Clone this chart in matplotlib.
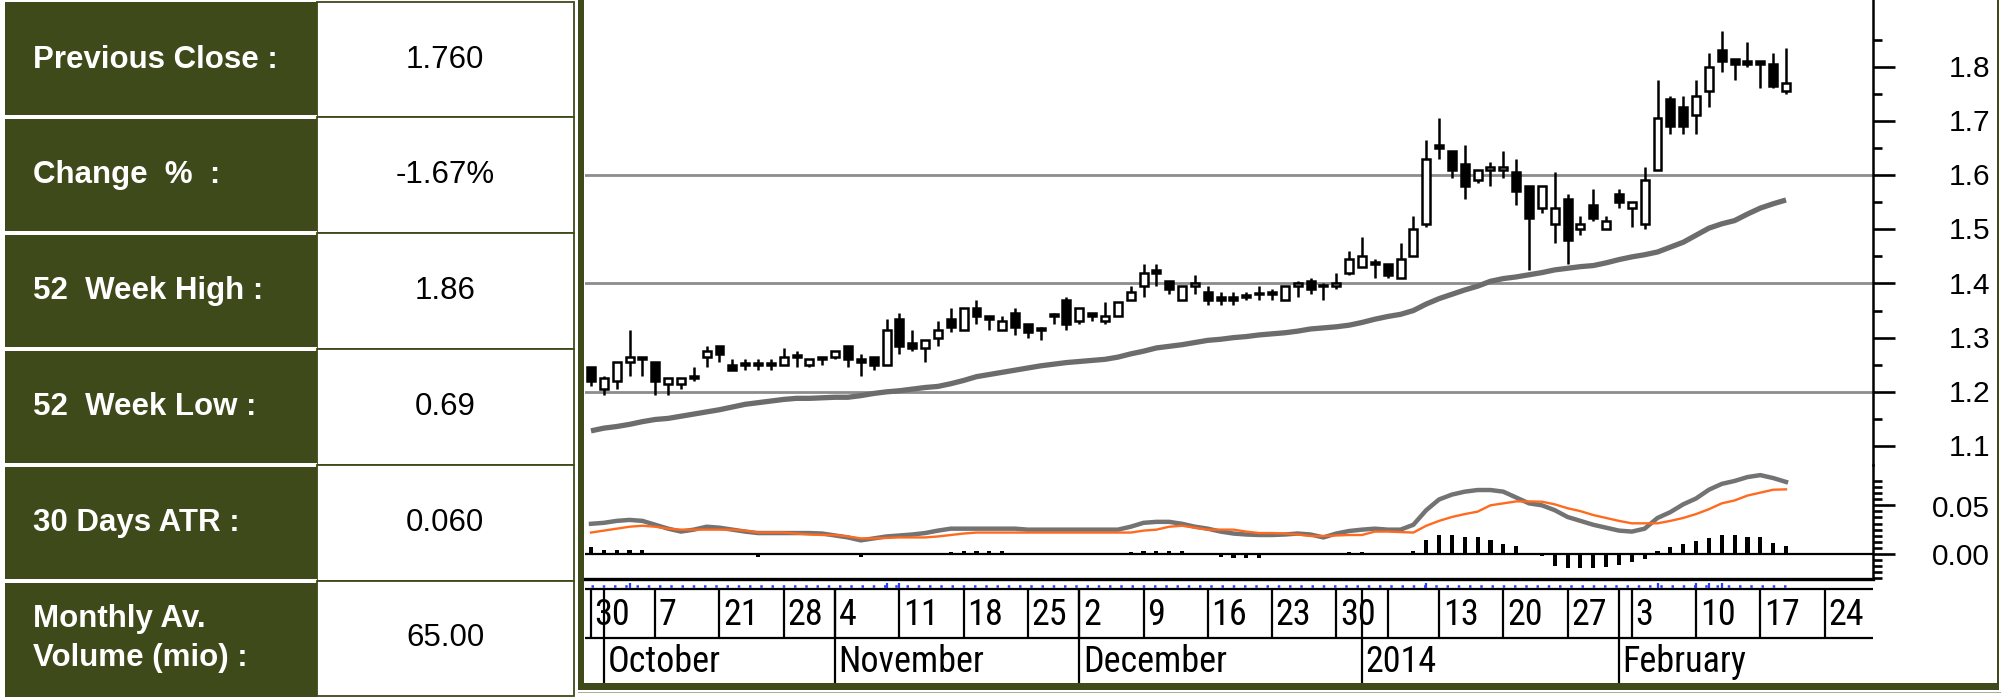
import numpy as np
import matplotlib
matplotlib.use("Agg")
import matplotlib.pyplot as plt
from matplotlib import font_manager as fm
from matplotlib.patches import Rectangle
from matplotlib.transforms import blended_transform_factory

# ---------------- data ----------------
table_labels = ["Previous Close :", "Change  %  :", "52  Week High :",
                "52  Week Low :", "30 Days ATR :", "Monthly Av.\nVolume (mio) :"]
table_values = ["1.760", "-1.67%", "1.86", "0.69", "0.060", "65.00"]

opens = [1.245, 1.205, 1.220, 1.255, 1.265, 1.255, 1.215, 1.215, 1.225, 1.265,
         1.285, 1.250, 1.250, 1.250, 1.250, 1.250, 1.265, 1.250, 1.265, 1.265,
         1.285, 1.260, 1.265, 1.250, 1.335, 1.290, 1.280, 1.300, 1.335, 1.315,
         1.355, 1.340, 1.315, 1.345, 1.325, 1.315, 1.340, 1.370, 1.330, 1.345,
         1.330, 1.340, 1.370, 1.395, 1.425, 1.405, 1.370, 1.395, 1.385, 1.375,
         1.375, 1.378, 1.380, 1.385, 1.370, 1.395, 1.405, 1.395, 1.395, 1.420,
         1.430, 1.440, 1.435, 1.410, 1.450, 1.510, 1.655, 1.645, 1.620, 1.590,
         1.610, 1.610, 1.605, 1.580, 1.540, 1.510, 1.555, 1.500, 1.545, 1.500,
         1.565, 1.540, 1.510, 1.610, 1.740, 1.725, 1.710, 1.755, 1.830, 1.815,
         1.810, 1.810, 1.805, 1.755]
highs = [1.245, 1.230, 1.255, 1.315, 1.265, 1.255, 1.225, 1.225, 1.245, 1.285,
         1.285, 1.260, 1.260, 1.260, 1.260, 1.280, 1.275, 1.260, 1.265, 1.275,
         1.285, 1.270, 1.265, 1.335, 1.345, 1.315, 1.295, 1.330, 1.355, 1.355,
         1.370, 1.340, 1.340, 1.355, 1.325, 1.320, 1.345, 1.375, 1.355, 1.345,
         1.365, 1.365, 1.395, 1.435, 1.435, 1.405, 1.395, 1.415, 1.395, 1.385,
         1.385, 1.385, 1.395, 1.390, 1.395, 1.405, 1.410, 1.400, 1.420, 1.460,
         1.485, 1.445, 1.435, 1.475, 1.525, 1.665, 1.705, 1.645, 1.655, 1.610,
         1.625, 1.645, 1.630, 1.580, 1.580, 1.605, 1.565, 1.525, 1.575, 1.525,
         1.575, 1.550, 1.615, 1.775, 1.745, 1.745, 1.775, 1.825, 1.865, 1.815,
         1.845, 1.810, 1.825, 1.835]
lows = [1.210, 1.195, 1.205, 1.230, 1.230, 1.195, 1.195, 1.205, 1.220, 1.245,
        1.255, 1.240, 1.240, 1.240, 1.240, 1.250, 1.245, 1.245, 1.250, 1.260,
        1.245, 1.230, 1.240, 1.250, 1.270, 1.275, 1.255, 1.285, 1.310, 1.315,
        1.325, 1.315, 1.315, 1.305, 1.300, 1.295, 1.325, 1.315, 1.325, 1.330,
        1.325, 1.340, 1.370, 1.375, 1.395, 1.380, 1.370, 1.380, 1.360, 1.360,
        1.360, 1.370, 1.370, 1.370, 1.370, 1.375, 1.380, 1.370, 1.390, 1.415,
        1.430, 1.410, 1.410, 1.410, 1.450, 1.505, 1.630, 1.595, 1.555, 1.585,
        1.580, 1.595, 1.545, 1.425, 1.530, 1.475, 1.435, 1.490, 1.515, 1.500,
        1.540, 1.505, 1.500, 1.610, 1.675, 1.675, 1.675, 1.725, 1.790, 1.775,
        1.800, 1.760, 1.760, 1.750]
closes = [1.220, 1.225, 1.255, 1.265, 1.260, 1.220, 1.225, 1.225, 1.230, 1.275,
          1.270, 1.240, 1.250, 1.250, 1.250, 1.265, 1.265, 1.260, 1.260, 1.275,
          1.260, 1.255, 1.250, 1.315, 1.285, 1.280, 1.295, 1.315, 1.320, 1.355,
          1.340, 1.335, 1.330, 1.320, 1.310, 1.315, 1.340, 1.325, 1.355, 1.340,
          1.340, 1.365, 1.385, 1.420, 1.420, 1.390, 1.395, 1.400, 1.370, 1.370,
          1.370, 1.375, 1.380, 1.380, 1.395, 1.400, 1.390, 1.395, 1.400, 1.445,
          1.450, 1.435, 1.415, 1.445, 1.500, 1.630, 1.650, 1.610, 1.580, 1.610,
          1.615, 1.615, 1.570, 1.520, 1.580, 1.540, 1.480, 1.510, 1.520, 1.515,
          1.550, 1.550, 1.590, 1.705, 1.690, 1.690, 1.745, 1.800, 1.810, 1.805,
          1.805, 1.805, 1.765, 1.770]

# long moving average (thick grey line)
ma = [1.128, 1.133, 1.136, 1.140, 1.145, 1.149, 1.151, 1.155, 1.159, 1.163,
      1.167, 1.172, 1.177, 1.180, 1.183, 1.186, 1.188, 1.188, 1.189, 1.190,
      1.190, 1.193, 1.197, 1.200, 1.202, 1.205, 1.208, 1.210, 1.215, 1.221,
      1.228, 1.232, 1.236, 1.240, 1.244, 1.248, 1.251, 1.254, 1.256, 1.258,
      1.260, 1.264, 1.270, 1.275, 1.281, 1.284, 1.287, 1.291, 1.295, 1.297,
      1.300, 1.302, 1.305, 1.307, 1.309, 1.312, 1.316, 1.318, 1.320, 1.323,
      1.328, 1.334, 1.339, 1.343, 1.350, 1.362, 1.372, 1.380, 1.388, 1.395,
      1.404, 1.409, 1.412, 1.416, 1.420, 1.425, 1.428, 1.431, 1.433, 1.438,
      1.444, 1.449, 1.453, 1.458, 1.467, 1.476, 1.489, 1.502, 1.510, 1.516,
      1.528, 1.539, 1.547, 1.554]

# lower indicator panel
macd = [0.031, 0.032, 0.034, 0.035, 0.034, 0.030, 0.026, 0.023, 0.025, 0.028,
        0.027, 0.025, 0.023, 0.0215, 0.0215, 0.0215, 0.0215, 0.0215, 0.021, 0.019,
        0.017, 0.014, 0.016, 0.018, 0.019, 0.020, 0.0215, 0.024, 0.026, 0.026,
        0.026, 0.026, 0.026, 0.026, 0.025, 0.025, 0.025, 0.025, 0.025, 0.025,
        0.025, 0.025, 0.028, 0.032, 0.033, 0.033, 0.031, 0.028, 0.026, 0.023,
        0.021, 0.020, 0.0195, 0.0195, 0.020, 0.021, 0.020, 0.017, 0.021, 0.0236,
        0.025, 0.026, 0.025, 0.025, 0.030, 0.045, 0.056, 0.061, 0.064, 0.0657,
        0.0657, 0.064, 0.058, 0.052, 0.050, 0.045, 0.038, 0.034, 0.030, 0.027,
        0.024, 0.023, 0.026, 0.037, 0.043, 0.051, 0.057, 0.066, 0.072, 0.075,
        0.079, 0.081, 0.078, 0.074]
signal = [0.022, 0.024, 0.026, 0.028, 0.029, 0.028, 0.026, 0.025, 0.025, 0.025,
          0.025, 0.025, 0.024, 0.022, 0.022, 0.022, 0.021, 0.020, 0.0195, 0.0195,
          0.018, 0.016, 0.016, 0.0165, 0.017, 0.017, 0.017, 0.018, 0.0195, 0.021,
          0.022, 0.022, 0.022, 0.022, 0.022, 0.022, 0.022, 0.022, 0.022, 0.022,
          0.022, 0.022, 0.022, 0.024, 0.025, 0.028, 0.029, 0.027, 0.025, 0.025,
          0.025, 0.023, 0.0215, 0.0215, 0.021, 0.020, 0.0185, 0.0185, 0.019, 0.0195,
          0.0195, 0.023, 0.023, 0.0225, 0.022, 0.029, 0.034, 0.038, 0.041, 0.0435,
          0.050, 0.052, 0.054, 0.054, 0.0537, 0.051, 0.047, 0.044, 0.040, 0.037,
          0.034, 0.0315, 0.0315, 0.0315, 0.034, 0.037, 0.041, 0.046, 0.052, 0.055,
          0.060, 0.063, 0.066, 0.0664]
hist = [0.007, 0.004, 0.004, 0.004, 0.004, 0.001, 0.0, 0.0, 0.0, 0.0,
        0.0, 0.0, 0.0, -0.003, 0.0, 0.0, 0.0, 0.0, 0.0, 0.0,
        0.0, -0.003, 0.0, 0.0, 0.001, 0.001, 0.001, 0.001, 0.002, 0.003,
        0.003, 0.003, 0.003, 0.001, 0.0, 0.0, 0.0, 0.0, 0.0, 0.0,
        0.001, 0.001, 0.002, 0.003, 0.003, 0.003, 0.003, 0.001, 0.0, -0.003,
        -0.004, -0.004, -0.004, -0.001, 0.0, 0.0, 0.0, 0.001, 0.001, 0.002,
        0.002, 0.001, 0.001, 0.001, 0.003, 0.014, 0.0195, 0.0195, 0.017, 0.017,
        0.014, 0.0105, 0.008, 0.0, -0.002, -0.012, -0.014, -0.014, -0.014, -0.013,
        -0.011, -0.008, -0.005, 0.003, 0.007, 0.010, 0.013, 0.016, 0.019, 0.019,
        0.017, 0.017, 0.011, 0.008]

# date axis (trading-day index of each marker)
week_idx = [0, 5, 10, 15, 19, 24, 29, 34, 38, 43, 48, 53, 58, 62, 66, 71, 76, 81, 86, 91, 96]
week_lbl = ["30", "7", "21", "28", "4", "11", "18", "25", "2", "9", "16", "23", "30",
            "", "13", "20", "27", "3", "10", "17", "24"]
month_idx = [1, 19, 38, 60, 80]
month_lbl = ["October", "November", "December", "2014", "February"]
vol_mark_idx = [3, 23, 24, 65, 83, 86, 87, 88]

price_major = [1.1, 1.2, 1.3, 1.4, 1.5, 1.6, 1.7, 1.8]
price_grid = [1.2, 1.4, 1.6]

# ---------------- fonts ----------------
FONT = ["Liberation Sans", "DejaVu Sans"]
have = {f.name for f in fm.fontManager.ttflist}
narrow_kw = dict(family=["Liberation Sans", "DejaVu Sans"], fontsize=23.5)
for name in ["Liberation Sans Narrow", "Arial Narrow", "Roboto Condensed"]:
    if name in have:
        narrow_kw = dict(family=[name, "DejaVu Sans"], fontsize=26)
        break

# ---------------- layout ----------------
W, H = 2001, 697
OLIVE = "#3f4a1a"

fig = plt.figure(figsize=(W / 100, H / 100), dpi=100)


def box(x0, y0, x1, y1):
    # pixel box (top-left origin) -> figure fraction rect
    return [x0 / W, 1 - y1 / H, (x1 - x0) / W, (y1 - y0) / H]


# background + table
bg = fig.add_axes([0, 0, 1, 1], zorder=0)
bg.set_xlim(0, W)
bg.set_ylim(H, 0)
bg.axis("off")

rows = [2, 117, 233, 349, 465, 581, 696]
bg.add_patch(Rectangle((5, 2), 312, 695, color=OLIVE, lw=0))
for k in range(len(table_labels)):
    y0, y1 = rows[k], rows[k + 1]
    if k > 0:
        bg.add_patch(Rectangle((5, y0 - 2), 312, 4, color="white", lw=0))
    bg.add_patch(Rectangle((317, y0), 257, y1 - y0, facecolor="white",
                           edgecolor=OLIVE, lw=1.3))
    yc = (y0 + y1) / 2
    bg.text(33, yc, table_labels[k], color="white", fontsize=22.5,
            fontweight="bold", family=FONT, ha="left", va="center",
            linespacing=1.35)
    bg.text(445, yc, table_values[k], color="black", fontsize=22.5,
            family=FONT, ha="center", va="center")

xlo, xhi = -0.467, 99.77
idx = list(range(len(opens)))

# price panel
ax = fig.add_axes(box(585, 0, 1873, 465), zorder=2)
ax.patch.set_visible(False)
ax.set_xlim(xlo, xhi)
ax.set_ylim(1.065, 1.923)
for g in price_grid:
    ax.axhline(g, color="#8c8c8c", lw=2.0, zorder=1)
ax.plot(idx, ma, color="#6c6c6c", lw=3.8, zorder=2, solid_capstyle="butt")

body_bot = [min(o, c) for o, c in zip(opens, closes)]
body_h = [max(abs(c - o), 0.003) for o, c in zip(opens, closes)]
body_col = ["white" if c > o else "black" for o, c in zip(opens, closes)]
ax.vlines(idx, lows, highs, colors="black", lw=1.8, zorder=3)
ax.bar(idx, body_h, bottom=body_bot, width=0.62, color=body_col,
       edgecolor="black", linewidth=1.8, zorder=4)

for s in ["top", "bottom", "left"]:
    ax.spines[s].set_visible(False)
ax.spines["right"].set_linewidth(1.8)
ax.set_xticks([])
ax.yaxis.tick_right()
ax.set_yticks(price_major)
ax.set_yticks(np.arange(1.15, 1.86, 0.1), minor=True)
ax.tick_params(axis="y", which="major", direction="out", length=16, width=1.9,
               labelright=False)
ax.tick_params(axis="y", which="minor", direction="out", length=6.5, width=1.9)
tr = blended_transform_factory(ax.transAxes, ax.transData)
for v in price_major:
    ax.text(1.0909, v - 0.004, f"{v:.1f}", transform=tr, ha="right",
            va="center", fontsize=21.5, family=FONT)

# indicator panel
ax2 = fig.add_axes(box(585, 465, 1873, 579), zorder=2)
ax2.patch.set_visible(False)
ax2.set_xlim(xlo, xhi)
ax2.set_ylim(-0.0257, 0.0914)
ax2.axhline(0, color="black", lw=1.6, zorder=1)
ax2.bar(idx, hist, width=0.32, color="black", zorder=2)
ax2.plot(idx, macd, color="#737373", lw=3.2, zorder=3)
ax2.plot(idx, signal, color="#ff6a1f", lw=1.7, zorder=4)
for s in ["top", "left"]:
    ax2.spines[s].set_visible(False)
ax2.spines["right"].set_linewidth(1.8)
ax2.spines["bottom"].set_linewidth(2.4)
ax2.set_xticks([])
ax2.yaxis.tick_right()
ax2.set_yticks([0.0, 0.05])
ax2.set_yticks(np.arange(-0.025, 0.0751, 0.00625), minor=True)
ax2.tick_params(axis="y", which="major", direction="out", length=16, width=1.9,
                labelright=False)
ax2.tick_params(axis="y", which="minor", direction="out", length=6.5, width=1.9)
tr2 = blended_transform_factory(ax2.transAxes, ax2.transData)
for v in [0.0, 0.05]:
    ax2.text(1.0909, v - 0.0035, f"{v:.2f}", transform=tr2, ha="right",
             va="center", fontsize=21.5, family=FONT)

# date strip (y in pixels)
ax3 = fig.add_axes(box(585, 579, 1873, 683), zorder=2)
ax3.patch.set_visible(False)
ax3.set_xlim(xlo, xhi)
ax3.set_ylim(683, 579)
ax3.axis("off")
ax3.hlines([589, 638], xlo, xhi, colors="black", lw=1.6)
ax3.hlines(586, 0, len(opens) - 1, colors="#2a3cff", lw=1.8,
           linestyles=(0, (1.0, 3.5)))
ax3.vlines(vol_mark_idx, 583, 588, colors="#2a3cff", lw=1.6)
ax3.vlines(week_idx, 589, 638, colors="black", lw=1.6)
ax3.vlines(month_idx, 589, 683, colors="black", lw=1.6)
for i, lab in zip(week_idx, week_lbl):
    ax3.text(i + 0.28, 615, lab, ha="left", va="center", **narrow_kw)
for i, lab in zip(month_idx, month_lbl):
    ax3.text(i + 0.28, 662, lab, ha="left", va="center", **narrow_kw)

# olive frame on top
fg = fig.add_axes([0, 0, 1, 1], zorder=5)
fg.patch.set_visible(False)
fg.set_xlim(0, W)
fg.set_ylim(H, 0)
fg.axis("off")
fg.add_patch(Rectangle((578, 0), 6, 690, color=OLIVE, lw=0))
fg.add_patch(Rectangle((578, 683), 1421, 7, color=OLIVE, lw=0))
fg.add_patch(Rectangle((1997, 0), 2, 690, color=OLIVE, lw=0))
fg.add_patch(Rectangle((578, 691.5), 1423, 1.5, color="#aab09a", lw=0))

fig.savefig("out.png", dpi=100)
